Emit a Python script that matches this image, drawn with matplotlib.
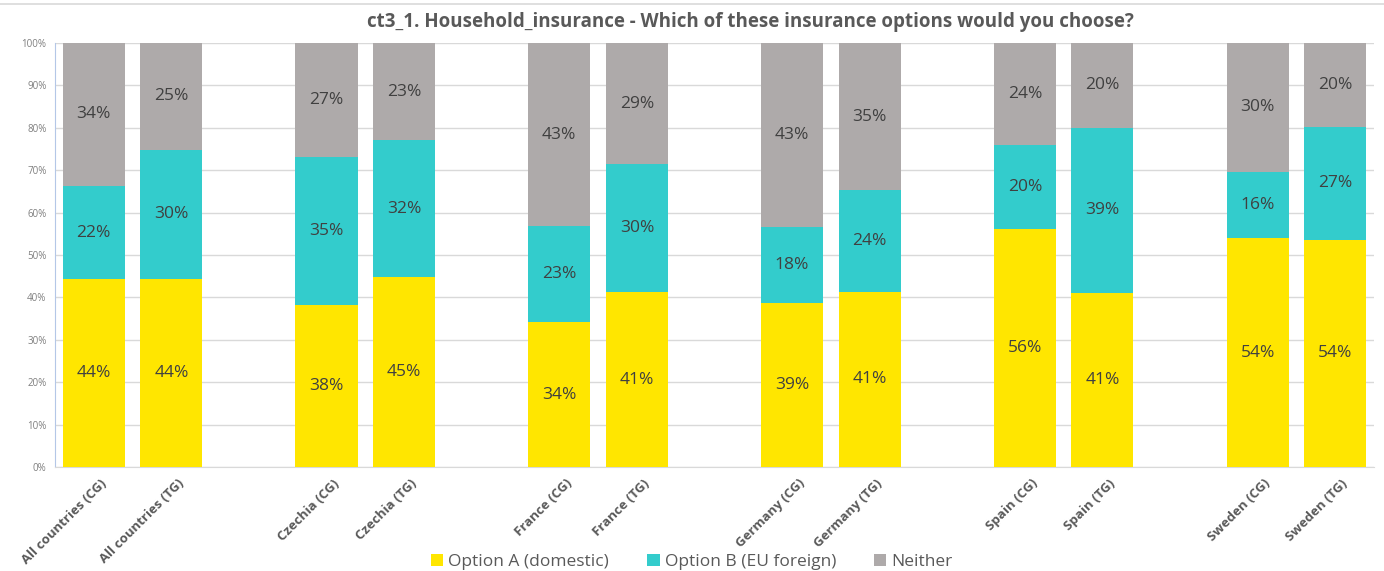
import matplotlib
matplotlib.use("Agg")
import matplotlib.pyplot as plt
from matplotlib.lines import Line2D
from matplotlib.patches import Patch
from matplotlib.transforms import ScaledTranslation

# Survey results (share of respondents, %)
categories = [
    "All countries (CG)", "All countries (TG)", "",
    "Czechia (CG)", "Czechia (TG)", "",
    "France (CG)", "France (TG)", "",
    "Germany (CG)", "Germany (TG)", "",
    "Spain (CG)", "Spain (TG)", "",
    "Sweden (CG)", "Sweden (TG)",
]
option_a = [44.3, 44.4, None, 38.2, 44.8, None, 34.2, 41.2, None, 38.7, 41.3, None, 56.1, 41.0, None, 54.0, 53.6]
option_b = [22.0, 30.4, None, 34.9, 32.3, None, 22.6, 30.2, None, 17.9, 24.0, None, 19.8, 39.0, None, 15.6, 26.6]
neither = [33.7, 25.2, None, 26.9, 22.9, None, 43.2, 28.6, None, 43.4, 34.7, None, 24.1, 20.0, None, 30.4, 19.8]

series_names = ["Option A (domestic)", "Option B (EU foreign)", "Neither"]
colors = ["#FFE600", "#33CCCC", "#AEAAAA"]
yticks = [0, 10, 20, 30, 40, 50, 60, 70, 80, 90, 100]

title = "ct3_1. Household_insurance - Which of these insurance options would you choose?"

plt.rcParams["font.family"] = ["Open Sans", "DejaVu Sans"]

fig = plt.figure(figsize=(13.84, 5.71), dpi=100)
ax = fig.add_axes([0.0397, 0.1821, 0.9531, 0.7426])

x = list(range(len(categories)))
bottoms = [0.0] * len(categories)
for vals, name, col in zip([option_a, option_b, neither], series_names, colors):
    xs = [i for i, v in enumerate(vals) if v is not None]
    hs = [vals[i] for i in xs]
    bs = [bottoms[i] for i in xs]
    ax.bar(xs, hs, bottom=bs, width=0.8, color=col, label=name, zorder=3)
    for i, h, b in zip(xs, hs, bs):
        ax.text(i, b + h / 2, f"{h:.0f}%", ha="center", va="center",
                fontsize=12.5, color="#404040", zorder=4)
        bottoms[i] = b + h

ax.set_xlim(-0.5, len(categories) - 0.5)
ax.set_ylim(0, 100)
ax.set_yticks(yticks)
ax.set_yticklabels([f"{t}%" for t in yticks], fontsize=7, color="#7f7f7f")
ax.yaxis.grid(True, color="#d9d9d9", linewidth=1, zorder=0)
ax.set_axisbelow(True)
ax.tick_params(axis="y", length=0, pad=6)
ax.tick_params(axis="x", length=0, pad=7)

ax.set_xticks(x)
ax.set_xticklabels(categories, rotation=45, ha="right", rotation_mode="anchor",
                   fontsize=9.5, fontweight="bold", color="#595959")
shift = ScaledTranslation(6 / 100, 0, fig.dpi_scale_trans)
for lbl in ax.get_xticklabels():
    lbl.set_transform(lbl.get_transform() + shift)

for side in ["top", "right"]:
    ax.spines[side].set_visible(False)
ax.spines["left"].set_color("#b4c7e7")
ax.spines["bottom"].set_color("#d9d9d9")

fig.text(0.542, 0.962, title, ha="center", va="center", fontsize=13.5,
         fontweight="bold", color="#595959")

handles = [Patch(facecolor=c, edgecolor="none") for c in colors]
fig.legend(handles, series_names, loc="center", bbox_to_anchor=(0.5, 0.016),
           ncol=3, frameon=False, fontsize=12.5, handlelength=0.7, handleheight=0.7,
           handletextpad=0.3, columnspacing=2.2, labelcolor="#595959")

fig.add_artist(Line2D([0, 1], [0.993, 0.993], color="#d9d9d9", linewidth=1.2,
                      transform=fig.transFigure))

fig.savefig("out.png", dpi=100, facecolor="white")
